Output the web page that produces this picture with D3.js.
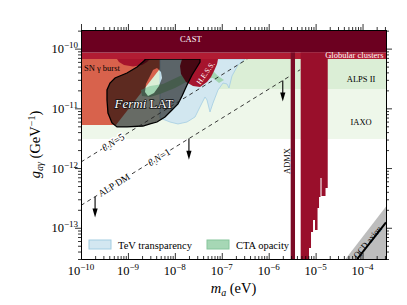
<!DOCTYPE html>
<html>
<head>
<meta charset="utf-8">
<script src="https://cdnjs.cloudflare.com/ajax/libs/d3/7.8.5/d3.min.js"></script>
<style>
  body { margin: 0; background: #fff; }
  svg { font-family: "Liberation Serif", "DejaVu Serif", serif; }
  .halo { paint-order: stroke; stroke: #fff; stroke-width: 3px; stroke-linejoin: round; }
</style>
</head>
<body>
<script>
// every shape is given as [log10(m_a / eV), log10(g_ag / GeV^-1)]
const castLimit = -10.065;
const globularLimit = -10.174;
const alpsLimit = -10.676;
const iaxoLimit = -11.513;

const snBurst = [[-10, -10.174], [-10, -11.279], [-9.254, -11.279], [-8.156, -10.174]];

const crimsonBump = [[-9.233, -10.174], [-9.19, -10.224], [-9.084, -10.274], [-8.892, -10.299],
    [-8.7, -10.274], [-8.593, -10.224], [-8.529, -10.174]];

const hess = [[-7.847, -10.174], [-7.89, -10.291], [-7.869, -10.425], [-7.762, -10.559],
    [-7.613, -10.626], [-7.464, -10.643], [-7.315, -10.559], [-7.229, -10.475],
    [-7.165, -10.375], [-7.101, -10.257], [-7.08, -10.174]];

const tevTransparency = [[-8.316, -10.174], [-8.316, -11.162], [-8.103, -11.229], [-7.933, -11.262],
    [-7.741, -11.229], [-7.57, -11.145], [-7.464, -10.977], [-7.357, -10.81], [-7.315, -10.86],
    [-7.251, -11.061], [-7.187, -10.911], [-7.08, -10.693], [-6.974, -10.576], [-6.888, -10.592],
    [-6.846, -10.659], [-6.782, -10.458], [-6.654, -10.274], [-6.505, -10.174]];

const ctaOpacity = [[-8.7, -10.793], [-8.721, -10.693], [-8.529, -10.626], [-8.252, -10.592],
    [-7.89, -10.458], [-7.464, -10.324], [-7.208, -10.358], [-7.08, -10.458], [-6.952, -10.525],
    [-7.059, -10.576], [-7.187, -10.492], [-7.357, -10.509], [-7.677, -10.525], [-7.997, -10.659],
    [-8.316, -10.76], [-8.529, -10.81]];

const fermiLAT = [[-8.636, -10.174], [-7.464, -10.174], [-7.464, -10.224], [-7.528, -10.308],
    [-7.634, -10.442], [-7.741, -10.609], [-7.847, -10.793], [-7.933, -10.927], [-8.061, -11.028],
    [-8.21, -11.145], [-8.38, -11.229], [-8.529, -11.262], [-8.679, -11.296], [-9.02, -11.312],
    [-9.233, -11.312], [-9.339, -11.245], [-9.425, -11.078], [-9.446, -10.86], [-9.446, -10.693],
    [-9.382, -10.576], [-9.275, -10.492], [-9.02, -10.408], [-8.806, -10.308], [-8.636, -10.19]];

const fermiHole = [[-8.38, -10.324], [-8.295, -10.391], [-8.274, -10.492], [-8.338, -10.626],
    [-8.444, -10.743], [-8.572, -10.793], [-8.636, -10.726], [-8.615, -10.592], [-8.529, -10.458],
    [-8.465, -10.358]];

const admx = [-5.531, -5.439];
const haloscopeEdges = [-5.318, -5.141, -5.098, -5.055, -5.013, -4.959, -4.927, -4.896, -4.874, -4.789, -4.742];
const haloscopeFloor = [-14, -13.339, -13.071, -12.87, -13.037, -12.669, -12.485, -12.167, -12.468, -12.334];

const qcdBand = [[-4.362, -13.523], [-3.5, -12.643], [-3.5, -13.6], [-4.362, -13.6]];
const qcdLine = [[-4.114, -13.523], [-3.5, -12.91]];

const thetaN5 = [[-10, -11.899], [-6.454, -10.174]];
const thetaN1 = [[-10, -12.625], [-5.33, -10.354]];
const dmArrows = [[-9.7, -12.479, -12.83], [-7.7, -11.506, -11.86], [-5.7, -10.533, -10.885]];

const xTickExp = [-10, -9, -8, -7, -6, -5, -4];
const yTickExp = [-13, -12, -11, -10];

const width = 407;
const height = 305;
const margin = { top: 30, right: 21, bottom: 46, left: 81 };

const x = d3.scaleLog()
    .domain([1e-10, 10 ** -3.5])
    .range([margin.left, width - margin.right]);

const y = d3.scaleLog()
    .domain([3e-14, 2.05e-10])
    .range([height - margin.bottom, margin.top]);

const shape = d3.line()
    .x(d => x(10 ** d[0]))
    .y(d => y(10 ** d[1]));

const svg = d3.select('body')
    .append('svg')
    .attr('width', width)
    .attr('height', height);

svg.append('defs')
    .append('clipPath')
    .attr('id', 'plot-clip')
    .append('rect')
    .attr('x', margin.left)
    .attr('y', margin.top)
    .attr('width', width - margin.left - margin.right)
    .attr('height', height - margin.top - margin.bottom);

const plot = svg.append('g').attr('clip-path', 'url(#plot-clip)');

const band = (lo, hi, fill) => plot.append('rect')
    .attr('x', margin.left)
    .attr('width', width - margin.left - margin.right)
    .attr('y', y(10 ** hi))
    .attr('height', y(10 ** lo) - y(10 ** hi))
    .attr('fill', fill);

const topExp = Math.log10(y.domain()[1]);

// sensitivity bands
band(iaxoLimit, globularLimit, '#eef7ea');
band(alpsLimit, globularLimit, '#dbeed6');

plot.append('path').attr('d', shape(snBurst) + 'Z').attr('fill', '#d8624c');
plot.append('path').attr('d', shape(tevTransparency) + 'Z')
    .attr('fill', '#d2e7f0').attr('stroke', '#a3cde2').attr('stroke-width', 0.8);
plot.append('path').attr('d', shape(ctaOpacity) + 'Z').attr('fill', '#a2d5b2');
plot.append('path').attr('d', shape(crimsonBump) + 'Z').attr('fill', '#a6142d');
plot.append('path').attr('d', shape(hess) + 'Z').attr('fill', '#a6142d');

plot.append('path')
    .attr('d', shape(fermiLAT) + 'Z' + shape(fermiHole) + 'Z')
    .attr('fill', '#000')
    .attr('fill-opacity', 0.57)
    .attr('fill-rule', 'evenodd');
plot.append('path')
    .attr('d', shape(fermiLAT) + 'Z')
    .attr('fill', 'none')
    .attr('stroke', '#000')
    .attr('stroke-width', 1.3);

// ALP dark matter lines
[thetaN5, thetaN1].forEach(l => {
    plot.append('path')
        .attr('d', shape(l))
        .attr('fill', 'none')
        .attr('stroke', '#222')
        .attr('stroke-width', 0.9)
        .attr('stroke-dasharray', '4,3.5');
});

dmArrows.forEach(([m, g0, g1]) => {
    const ax = x(10 ** m);
    const tip = y(10 ** g1);
    plot.append('line')
        .attr('x1', ax).attr('x2', ax)
        .attr('y1', y(10 ** g0)).attr('y2', tip - 6)
        .attr('stroke', '#000').attr('stroke-width', 1.1);
    plot.append('path')
        .attr('d', `M${ax - 2.6},${tip - 9}L${ax + 2.6},${tip - 9}L${ax},${tip}Z`)
        .attr('fill', '#000');
});

// helioscope / astro bands on top
band(globularLimit, castLimit, '#b11c33');
band(castLimit, topExp, '#6c0020');

// haloscopes
plot.append('rect')
    .attr('x', x(10 ** admx[0]))
    .attr('width', x(10 ** admx[1]) - x(10 ** admx[0]))
    .attr('y', y(10 ** castLimit))
    .attr('height', y.range()[0] - y(10 ** castLimit))
    .attr('fill', '#7b0b26');

const haloscope = [[haloscopeEdges[0], castLimit]];
haloscopeFloor.forEach((f, i) => {
    haloscope.push([haloscopeEdges[i], f], [haloscopeEdges[i + 1], f]);
});
haloscope.push([haloscopeEdges[haloscopeEdges.length - 1], castLimit]);
plot.append('path').attr('d', shape(haloscope) + 'Z').attr('fill', '#990f2b');

// QCD axion
plot.append('path').attr('d', shape(qcdBand) + 'Z').attr('fill', '#bdbdbd');
plot.append('path').attr('d', shape(qcdLine))
    .attr('stroke', '#000').attr('stroke-width', 2).attr('fill', 'none');

// axes
const minorOf = s => s.ticks().filter(t => Math.abs(Math.log10(t) - Math.round(Math.log10(t))) > 1e-6);
const xMajor = xTickExp.map(e => 10 ** e);
const yMajor = yTickExp.map(e => 10 ** e);
const bottom = height - margin.bottom;
const right = width - margin.right;

const drawAxis = (axis, transform, major, minor, size) => {
    svg.append('g')
        .attr('transform', transform)
        .call(axis.tickValues(minor).tickSize(size * 0.5).tickSizeOuter(0).tickFormat(''));
    svg.append('g')
        .attr('transform', transform)
        .call(axis.tickValues(major).tickSize(size).tickSizeOuter(0).tickFormat(''));
};

drawAxis(d3.axisBottom(x), `translate(0,${bottom})`, xMajor, minorOf(x), -6);
drawAxis(d3.axisTop(x), `translate(0,${margin.top})`, xMajor, minorOf(x), 6);
drawAxis(d3.axisLeft(y), `translate(${margin.left},0)`, yMajor, minorOf(y), 6);
drawAxis(d3.axisRight(y), `translate(${right},0)`, yMajor, minorOf(y), 6);
svg.selectAll('.domain').attr('stroke', '#000').attr('stroke-width', 1);
svg.selectAll('.tick line').attr('stroke', '#000').attr('stroke-width', 0.8);

const powerLabel = (t, exp) => {
    t.append('tspan').text('10');
    t.append('tspan').attr('dy', -5).style('font-size', '9px').text('−' + Math.abs(exp));
};

xTickExp.forEach(e => {
    const t = svg.append('text')
        .attr('x', x(10 ** e))
        .attr('y', bottom + 16)
        .attr('text-anchor', 'middle')
        .style('font-size', '12.5px');
    powerLabel(t, e);
});

yTickExp.forEach(e => {
    const t = svg.append('text')
        .attr('x', margin.left - 3)
        .attr('y', y(10 ** e) + 4.5)
        .attr('text-anchor', 'end')
        .style('font-size', '12.5px');
    powerLabel(t, e);
});

const xLabel = svg.append('text')
    .attr('x', (margin.left + right) / 2)
    .attr('y', 293)
    .attr('text-anchor', 'middle')
    .style('font-size', '14.5px');
xLabel.append('tspan').style('font-style', 'italic').text('m');
xLabel.append('tspan').attr('dy', 3).style('font-size', '10px').style('font-style', 'italic').text('a');
xLabel.append('tspan').attr('dy', -3).text(' (eV)');

const yLabel = svg.append('text')
    .attr('transform', `translate(40,${(margin.top + bottom) / 2}) rotate(-90)`)
    .attr('text-anchor', 'middle')
    .style('font-size', '14.5px');
yLabel.append('tspan').style('font-style', 'italic').text('g');
yLabel.append('tspan').attr('dy', 3).style('font-size', '10px').style('font-style', 'italic').text('aγ');
yLabel.append('tspan').attr('dy', -3).text(' (GeV');
yLabel.append('tspan').attr('dy', -5).style('font-size', '10px').text('−1');
yLabel.append('tspan').attr('dy', 5).text(')');

// region labels
const label = (m, g, txt, opts = {}) => svg.append('text')
    .attr('transform', `translate(${x(10 ** m)},${y(10 ** g)}) rotate(${opts.rotate || 0})`)
    .attr('text-anchor', opts.anchor || 'middle')
    .attr('fill', opts.fill || '#000')
    .style('font-size', (opts.size || 8.5) + 'px')
    .text(txt);

label(-7.66, -9.889, 'CAST', { fill: '#fff' });
label(-3.553, -10.149, 'Globular clusters', { fill: '#fff', anchor: 'end' });
label(-4.032, -10.559, 'ALPS II');
label(-4.032, -11.279, 'IAXO');
label(-9.936, -10.375, 'SN γ burst', { anchor: 'start' });
label(-7.347, -10.408, 'H.E.S.S.', { fill: '#fff', rotate: -55, size: 7.5 }).attr('dy', '0.35em');
label(-5.599, -11.882, 'ADMX', { rotate: -90 }).attr('dy', '0.35em');
label(-3.894, -13.238, 'QCD axion', { rotate: -50 }).attr('dy', '0.35em');

const fermi = label(-8.657, -10.986, '', { fill: '#fff', size: 13 })
    .style('paint-order', 'stroke')
    .attr('stroke', '#111')
    .attr('stroke-width', 1.6)
    .attr('stroke-linejoin', 'round');
fermi.append('tspan').style('font-style', 'italic').text('Fermi');
fermi.append('tspan').text(' LAT');

const thetaLabel = (m, g, n) => {
    const t = label(m, g, '', { rotate: -31.8, size: 10 })
        .attr('class', 'halo')
        .attr('dy', '0.35em');
    t.append('tspan').style('font-style', 'italic').text('θ');
    t.append('tspan').attr('dy', 2).style('font-size', '7px').text('I');
    t.append('tspan').attr('dy', -2).style('font-style', 'italic').text('N');
    t.append('tspan').text('=' + n);
};
thetaLabel(-9.318, -11.564, 5);
thetaLabel(-8.338, -11.816, 1);
label(-9.297, -12.283, 'ALP DM', { rotate: -31.8, size: 9.5 }).attr('class', 'halo').attr('dy', '0.35em');

// legend
const legend = svg.append('g').style('font-size', '10.5px');
[['TeV transparency', '#d3e7f1', '#a3cde2', 89], ['CTA opacity', '#a6d7b5', '#86c59c', 207]].forEach(([txt, fill, stroke, lx]) => {
    legend.append('rect')
        .attr('x', lx).attr('y', 240)
        .attr('width', 22).attr('height', 9)
        .attr('fill', fill).attr('stroke', stroke).attr('stroke-width', 1);
    legend.append('text')
        .attr('x', lx + 29).attr('y', 248.5)
        .text(txt);
});
</script>
</body>
</html>
